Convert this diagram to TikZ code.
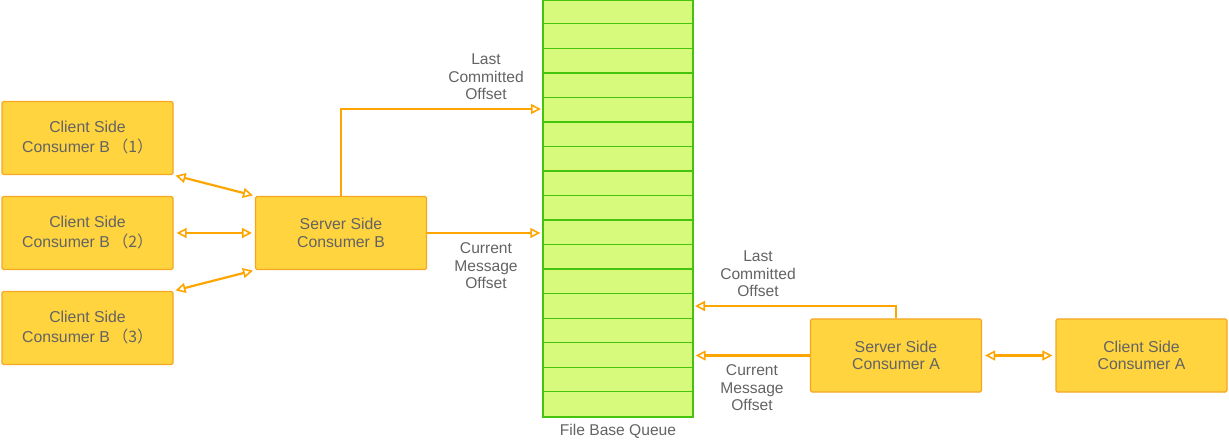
\documentclass[tikz,border=0pt]{standalone}
\usepackage{fontspec}
\setmainfont{Liberation Sans}
\newfontfamily\cjk{Noto Sans CJK SC}
\usetikzlibrary{arrows.meta}
\definecolor{boxfill}{HTML}{FFD43F}
\definecolor{boxline}{HTML}{F5A623}
\definecolor{arr}{HTML}{FFA500}
\definecolor{qfill}{HTML}{D7FA7D}
\definecolor{qline}{HTML}{45C40E}
\definecolor{txt}{HTML}{636363}
\tikzset{
  ybox/.style={draw=boxline, fill=boxfill, line width=1.2pt, rounded corners=1.5pt,
    minimum width=171pt, minimum height=73pt, inner sep=0pt, align=center,
    text=txt, font=\fontsize{15.8}{20}\selectfont},
  qbox/.style={draw=qline, fill=qfill, line width=1.4pt, inner sep=0pt},
  qrow/.style={draw=qline, line width=1.3pt},
  lbl/.style={text=txt, align=center, inner sep=0pt, font=\fontsize{15.6}{17.5}\selectfont},
  conn/.style={draw=arr, line width=2.2pt, -{Triangle[open, length=10pt, width=10pt, line width=1.6pt]}},
  biconn/.style={draw=arr, line width=2.2pt, {Triangle[open, length=10pt, width=10pt, line width=1.6pt]}-{Triangle[open, length=10pt, width=10pt, line width=1.6pt]}}
}
\begin{document}
\begin{tikzpicture}[x=1pt, y=-1pt]
\useasboundingbox (0,0) rectangle (1229,446);
% queue
\node[qbox, minimum width=150pt, minimum height=417pt] (queue) at (618,208.5) {};
\foreach \i in {1,...,16} {
  \draw[qrow] ([yshift=-24.53*\i pt]queue.north west) -- ([yshift=-24.53*\i pt]queue.north east);
}
\node[lbl, anchor=north] (qlabel) at (618,424) {File Base Queue};
% boxes
\node[ybox] (cb1) at (87.5,138) {Client Side\\Consumer B\,{\cjk （1）}};
\node[ybox] (cb2) at (87.5,233) {Client Side\\Consumer B\,{\cjk （2）}};
\node[ybox] (cb3) at (87.5,328) {Client Side\\Consumer B\,{\cjk （3）}};
\node[ybox, font=\fontsize{15.8}{18}\selectfont] (sb) at (341,233) {Server Side\\Consumer B};
\node[ybox, font=\fontsize{15.8}{17.5}\selectfont] (sa) at (896,355.5) {Server Side\\Consumer A};
\node[ybox, font=\fontsize{15.8}{17.5}\selectfont] (ca) at (1141.5,355.5) {Client Side\\Consumer A};
% target coordinates on queue
\coordinate (lcB) at (543,109);
\coordinate (lcA) at (693,306);
% connectors
\draw[biconn, shorten <=2pt, shorten >=2pt] (cb1.south east) -- (sb.north west);
\draw[biconn, shorten <=3pt, shorten >=3pt] (cb2.east) -- (sb.west);
\draw[biconn, shorten <=2pt, shorten >=2pt] (cb3.north east) -- (sb.south west);
\draw[conn, shorten >=2pt] (sb.north) |- (lcB);
\draw[conn, shorten >=2pt] (sb.east) -- (queue.west |- sb.east);
\draw[conn, shorten >=2pt] (sa.north) |- (lcA);
\draw[conn, shorten >=2pt] (sa.west) -- (queue.east |- sa.west);
\draw[biconn, shorten <=3pt, shorten >=3pt] (sa.east) -- (ca.west);
% labels
\node[lbl] (l1) at (486,77) {Last\\Committed\\Offset};
\node[lbl] (l2) at (486,266) {Current\\Message\\Offset};
\node[lbl] (l3) at (758,274) {Last\\Committed\\Offset};
\node[lbl] (l4) at (752,388) {Current\\Message\\Offset};
\end{tikzpicture}
\end{document}
